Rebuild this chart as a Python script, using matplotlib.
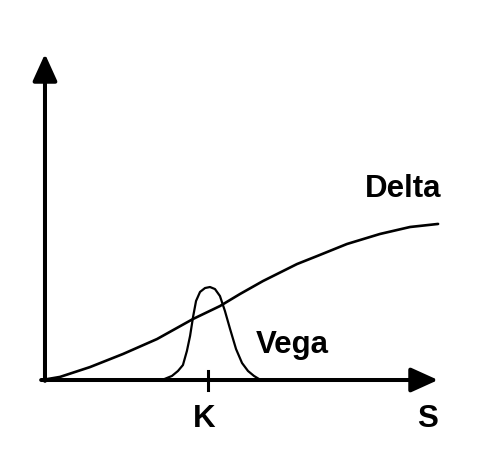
import matplotlib.pyplot as plt

# Greeks of a call option against the underlying price S (strike K = 100)
delta_s = [0, 10.8, 28.9, 48.8, 69.3, 91.0, 107.2, 119.3, 133.1, 153.6, 165.7, 183.7, 203.6, 221.7, 238.6]
delta_v = [0, 0.018, 0.076, 0.153, 0.241, 0.359, 0.435, 0.506, 0.582, 0.682, 0.729, 0.800, 0.859, 0.900, 0.918]

vega_s = [72.3, 75.3, 78.3, 81.9, 84.9, 87.3, 89.2, 91.0, 92.8, 95.2, 98.2, 101.2, 104.2,
          107.2, 110.2, 113.3, 116.9, 120.5, 124.1, 127.7, 130.7, 132.5]
vega_v = [0, 0.012, 0.024, 0.053, 0.088, 0.171, 0.259, 0.371, 0.465, 0.518, 0.541, 0.547, 0.535,
          0.494, 0.406, 0.300, 0.182, 0.100, 0.053, 0.024, 0.006, 0]

strike = 100
s_max = 238.6
y_max = 1.918

fig = plt.figure(figsize=(4.82, 4.52), dpi=100, facecolor='white')
ax = fig.add_axes([11 / 482, 0, 471 / 482, 448 / 452])
ax.set_facecolor('#f4f9f6')
ax.set_xlim(-18.67, 265.06)
ax.set_ylim(-0.4176, 2.2176)
ax.axis('off')
ax.patch.set_visible(True)

# axes drawn as arrows
arrow = dict(arrowstyle='-|>,head_length=0.75,head_width=0.34', lw=2.9, color='black',
             shrinkA=0, shrinkB=0, mutation_scale=22)
ax.annotate('', xy=(s_max, 0), xytext=(-0.5, 0), arrowprops=arrow)
ax.annotate('', xy=(1.8, y_max), xytext=(1.8, -0.005), arrowprops=arrow)

ax.plot(delta_s, delta_v, color='black', lw=1.9, solid_capstyle='round')
ax.plot(vega_s, vega_v, color='black', lw=1.6, solid_capstyle='round')

# strike tick
ax.plot([strike, strike], [-0.059, 0.053], color='black', lw=2.2)

font = dict(family='Liberation Sans', fontweight='bold', fontsize=22.5, color='black')
ax.text(strike - 2, -0.272, 'K', ha='center', va='baseline', **font)
ax.text(232, -0.272, 'S', ha='center', va='baseline', **font)
ax.text(194.5, 1.082, 'Delta', ha='left', va='baseline', **font)
ax.text(128.5, 0.165, 'Vega', ha='left', va='baseline', **font)

plt.savefig('out.png', dpi=100, facecolor='white')
